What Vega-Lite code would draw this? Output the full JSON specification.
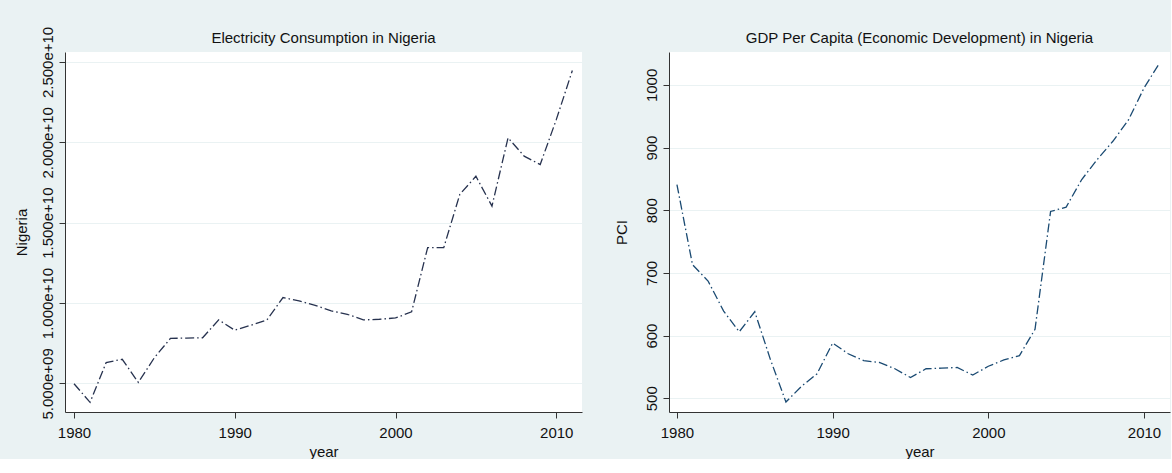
{
  "$schema": "https://vega.github.io/schema/vega-lite/v6.json",
  "background": "#EAF2F3",
  "padding": {"left": 13, "top": 26, "right": 1, "bottom": 0},
  "autosize": {"type": "pad"},
  "bounds": "flush",
  "spacing": 87,
  "config": {
    "font": "Liberation Sans",
    "view": {"fill": "white", "stroke": null},
    "title": {"fontSize": 15, "fontWeight": "normal", "color": "#111111", "font": "Liberation Sans", "frame": "group"},
    "axis": {
      "domainColor": "#333333",
      "tickColor": "#333333",
      "tickSize": 6,
      "labelFontSize": 15,
      "titleFontSize": 15,
      "labelColor": "#111111",
      "titleColor": "#111111",
      "titleFontWeight": "normal",
      "gridColor": "#EAF2F3",
      "gridWidth": 1.2,
      "labelPadding": 4,
      "titlePadding": 4,
      "labelFont": "Liberation Sans",
      "titleFont": "Liberation Sans"
    },
    "axisX": {"grid": false, "labelPadding": 7, "titlePadding": 4},
    "axisY": {"grid": true, "labelAngle": -90, "labelAlign": "center", "labelBaseline": "bottom", "titlePadding": 11}
  },
  "datasets": {
    "elec": [
      {"year": 1980, "Nigeria": 4980000000},
      {"year": 1981, "Nigeria": 3820000000},
      {"year": 1982, "Nigeria": 6300000000},
      {"year": 1983, "Nigeria": 6500000000},
      {"year": 1984, "Nigeria": 5060000000},
      {"year": 1985, "Nigeria": 6600000000},
      {"year": 1986, "Nigeria": 7800000000},
      {"year": 1987, "Nigeria": 7820000000},
      {"year": 1988, "Nigeria": 7840000000},
      {"year": 1989, "Nigeria": 8950000000},
      {"year": 1990, "Nigeria": 8310000000},
      {"year": 1991, "Nigeria": 8620000000},
      {"year": 1992, "Nigeria": 8950000000},
      {"year": 1993, "Nigeria": 10340000000},
      {"year": 1994, "Nigeria": 10130000000},
      {"year": 1995, "Nigeria": 9860000000},
      {"year": 1996, "Nigeria": 9510000000},
      {"year": 1997, "Nigeria": 9300000000},
      {"year": 1998, "Nigeria": 8950000000},
      {"year": 1999, "Nigeria": 8990000000},
      {"year": 2000, "Nigeria": 9070000000},
      {"year": 2001, "Nigeria": 9450000000},
      {"year": 2002, "Nigeria": 13450000000},
      {"year": 2003, "Nigeria": 13450000000},
      {"year": 2004, "Nigeria": 16760000000},
      {"year": 2005, "Nigeria": 17890000000},
      {"year": 2006, "Nigeria": 16030000000},
      {"year": 2007, "Nigeria": 20280000000},
      {"year": 2008, "Nigeria": 19140000000},
      {"year": 2009, "Nigeria": 18620000000},
      {"year": 2010, "Nigeria": 21410000000},
      {"year": 2011, "Nigeria": 24470000000}
    ],
    "gdp": [
      {"year": 1980, "PCI": 841},
      {"year": 1981, "PCI": 713},
      {"year": 1982, "PCI": 687},
      {"year": 1983, "PCI": 639},
      {"year": 1984, "PCI": 606},
      {"year": 1985, "PCI": 638},
      {"year": 1986, "PCI": 562},
      {"year": 1987, "PCI": 494},
      {"year": 1988, "PCI": 519},
      {"year": 1989, "PCI": 539},
      {"year": 1990, "PCI": 588},
      {"year": 1991, "PCI": 571},
      {"year": 1992, "PCI": 560},
      {"year": 1993, "PCI": 557},
      {"year": 1994, "PCI": 547},
      {"year": 1995, "PCI": 533},
      {"year": 1996, "PCI": 547},
      {"year": 1997, "PCI": 548},
      {"year": 1998, "PCI": 549},
      {"year": 1999, "PCI": 537},
      {"year": 2000, "PCI": 551},
      {"year": 2001, "PCI": 561},
      {"year": 2002, "PCI": 568},
      {"year": 2003, "PCI": 610},
      {"year": 2004, "PCI": 798},
      {"year": 2005, "PCI": 805},
      {"year": 2006, "PCI": 849},
      {"year": 2007, "PCI": 881},
      {"year": 2008, "PCI": 910},
      {"year": 2009, "PCI": 944},
      {"year": 2010, "PCI": 995},
      {"year": 2011, "PCI": 1035}
    ]
  },
  "hconcat": [
    {
      "width": 517,
      "height": 360,
      "title": {"text": "Electricity Consumption in Nigeria", "offset": -20},
      "data": {"name": "elec"},
      "mark": {"type": "line", "color": "#27324F", "strokeDash": [9, 3, 1.5, 3], "strokeWidth": 1.3},
      "encoding": {
        "x": {
          "field": "year", "type": "quantitative",
          "scale": {"domain": [1979.44, 2011.6], "nice": false, "zero": false},
          "axis": {"values": [1980, 1990, 2000, 2010], "format": "d", "title": "year"}
        },
        "y": {
          "field": "Nigeria", "type": "quantitative",
          "scale": {"domain": [3220000000, 25620000000], "nice": false, "zero": false},
          "axis": {
            "values": [5000000000, 10000000000, 15000000000, 20000000000, 25000000000],
            "labelExpr": "replace(format(datum.value, '.3e'), 'e+9', 'e+09')",
            "title": "Nigeria"
          }
        }
      }
    },
    {
      "width": 501,
      "height": 360,
      "title": {"text": "GDP Per Capita (Economic Development) in Nigeria", "offset": 6},
      "data": {"name": "gdp"},
      "mark": {"type": "line", "color": "#1A4A72", "strokeDash": [9, 3, 1.5, 3], "strokeWidth": 1.3},
      "encoding": {
        "x": {
          "field": "year", "type": "quantitative",
          "scale": {"domain": [1979.49, 2011.67], "nice": false, "zero": false},
          "axis": {"values": [1980, 1990, 2000, 2010], "format": "d", "title": "year"}
        },
        "y": {
          "field": "PCI", "type": "quantitative",
          "scale": {"domain": [478, 1052.5], "nice": false, "zero": false},
          "axis": {"values": [500, 600, 700, 800, 900, 1000], "format": "d", "title": "PCI", "titlePadding": 15}
        }
      }
    }
  ]
}
